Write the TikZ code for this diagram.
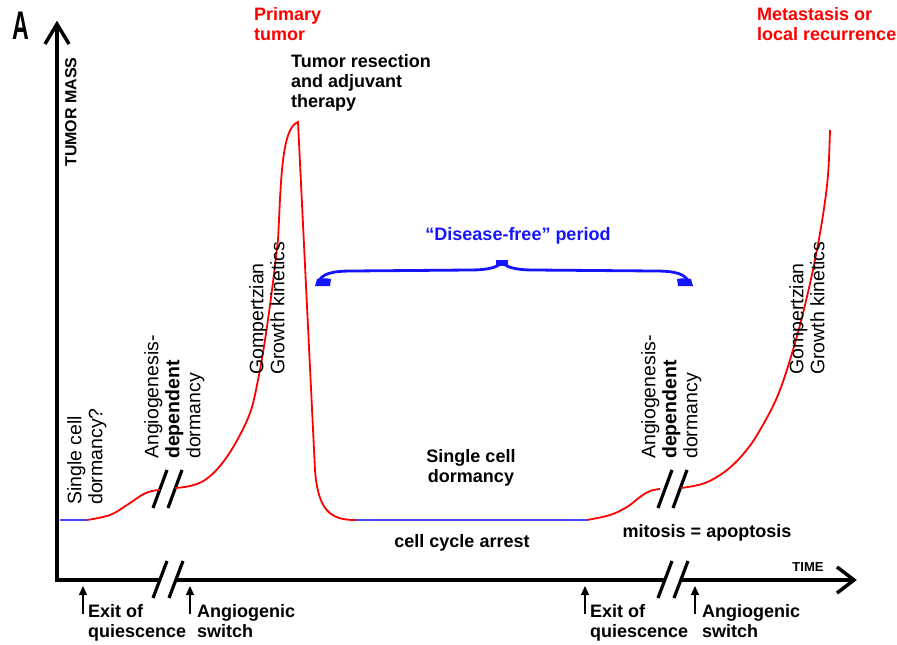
\documentclass[tikz,border=0pt]{standalone}
\usepackage{fontspec}
\setmainfont{Liberation Sans}
\usetikzlibrary{arrows.meta}
\definecolor{tred}{RGB}{255,0,0}
\definecolor{tblue}{RGB}{20,20,255}
\definecolor{cblue}{RGB}{70,70,255}
\begin{document}
\begin{tikzpicture}[x=1pt,y=-1pt,
 lbl/.style={font=\fontsize{18}{20}\selectfont\bfseries, inner sep=0pt, align=left},
 rot/.style={font=\fontsize{19.5}{21}\selectfont, inner sep=0pt, align=left, rotate=90, anchor=north west},
 axis/.style={line width=3.5pt},
 brk/.style={line width=3.2pt},
 tc/.style={tred, line width=1.8pt},
 bc/.style={cblue, line width=2.2pt},
 uparr/.style={-{Triangle[length=9pt,width=8pt]}, line width=1.4pt}
]
\useasboundingbox (0,0) rectangle (897,645);
% axes
\coordinate (O) at (57,580);
\coordinate (Y) at (57,24);
\coordinate (X) at (854,580);
\coordinate (xb1) at (160,580);
\coordinate (xb2) at (176,580);
\coordinate (xb3) at (665,580);
\coordinate (xb4) at (681,580);
\draw[axis, line join=miter] (Y) -- (O) -- (xb1);
\draw[axis] (xb2) -- (xb3);
\draw[axis] (xb4) -- (X);
\draw[axis, line join=miter] (45,44) -- (Y) -- (69,44);
\draw[axis, line join=miter] (837,567) -- (X) -- (837,593);
% axis breaks
\draw[brk] (153,598) -- (167,561);
\draw[brk] (169,598) -- (183,561);
\draw[brk] (658,598) -- (672,561);
\draw[brk] (674,598) -- (688,561);
% curve breaks
\draw[brk] (153,508) -- (167,470);
\draw[brk] (168,508) -- (182,470);
\draw[brk] (658,508) -- (672,470);
\draw[brk] (673,508) -- (687,470);

% curve
\coordinate (c0) at (60,520);
\coordinate (c1) at (87,520);
\draw[bc] (c0) -- (c1);
\draw[tc] plot[smooth, tension=0.6] coordinates {(87,520) (110,515) (127,505) (142,495) (152,491) (160,490)};
\draw[tc] plot[smooth, tension=0.6] coordinates {(175,488) (190,486) (205,480) (220,466) (235,444) (250,413) (258,380) (265,340) (272,290) (278,240)}
   .. controls (281,185) and (281,128) .. (298,122)
   -- (315,470) .. controls (318,510) and (330,520) .. (355,520);
\coordinate (c2) at (355,520);
\coordinate (c3) at (587,520);
\draw[bc] (c2) -- (c3);
\draw[tc] plot[smooth, tension=0.6] coordinates {(587,520) (610,515) (627,507) (640,497) (650,491) (660,489)};
\draw[tc] plot[smooth, tension=0.6] coordinates {(681,488) (705,483) (727,470) (745,452) (760,430) (778,395) (793,350) (805,305) (815,260) (823,215) (828,175) (830,130)};

% brace
\draw[tblue, line width=2.8pt] (318,283) .. controls (321,274) and (331,271) .. (352,271) -- (470,270) .. controls (492,270) and (499,266) .. (502,262) .. controls (505,266) and (512,270) .. (534,270) -- (655,271) .. controls (676,271) and (686,274) .. (689,283);
\fill[tblue] (315,286) -- (317,279) .. controls (321,278) and (326,278) .. (331,279) -- (330,286) -- cycle;
\fill[tblue] (693,286) -- (691,279) .. controls (687,278) and (682,278) .. (677,279) -- (678,286) -- cycle;
\fill[tblue] (496,260) rectangle (508,266);

% texts
\node[font=\fontsize{40}{40}\selectfont\bfseries, xscale=0.58, inner sep=0pt, anchor=north west] (A) at (12,12) {A};
\node[font=\fontsize{16}{16}\selectfont\bfseries, rotate=90, inner sep=0pt, anchor=north] (ym) at (65,112) {TUMOR MASS};
\node[font=\fontsize{13}{13}\selectfont\bfseries, inner sep=0pt] (tm) at (808,567) {TIME};
\node[lbl, tred, anchor=north west] (prim) at (254,7) {Primary\\tumor};
\node[lbl, anchor=north west] (resec) at (291,54) {Tumor resection\\and adjuvant\\therapy};
\node[lbl, tred, anchor=north west] (meta) at (757,7) {Metastasis or\\local recurrence};
\node[lbl, tblue, anchor=center] (df) at (518,236) {“Disease-free” period};
\node[lbl, align=center, anchor=north] (scd) at (471,449) {Single cell\\dormancy};
\node[lbl] (cca) at (462,543) {cell cycle arrest};
\node[lbl] (mit) at (707,533) {mitosis = apoptosis};

\node[rot] (sc1) at (67,505) {Single cell\\dormancy?};
\node[rot] (ad1) at (144,459) {Angiogenesis-\\\textbf{dependent}\\dormancy};
\node[rot] (ad2) at (641,459) {Angiogenesis-\\\textbf{dependent}\\dormancy};
\node[rot] (gk1) at (249,375) {Gompertzian\\Growth kinetics};
\node[rot] (gk2) at (789,375) {Gompertzian\\Growth kinetics};

\node[lbl, anchor=north west] (ex1) at (88,604) {Exit of\\quiescence};
\node[lbl, anchor=north west] (as1) at (197,604) {Angiogenic\\switch};
\node[lbl, anchor=north west] (ex2) at (590,604) {Exit of\\quiescence};
\node[lbl, anchor=north west] (as2) at (702,604) {Angiogenic\\switch};
\coordinate (e1) at (83,614); \coordinate (e1t) at (83,586);
\coordinate (s1) at (190,614); \coordinate (s1t) at (190,586);
\coordinate (e2) at (585,614); \coordinate (e2t) at (585,586);
\coordinate (s2) at (695,614); \coordinate (s2t) at (695,586);
\draw[uparr] (e1) -- (e1t);
\draw[uparr] (s1) -- (s1t);
\draw[uparr] (e2) -- (e2t);
\draw[uparr] (s2) -- (s2t);
\end{tikzpicture}
\end{document}
